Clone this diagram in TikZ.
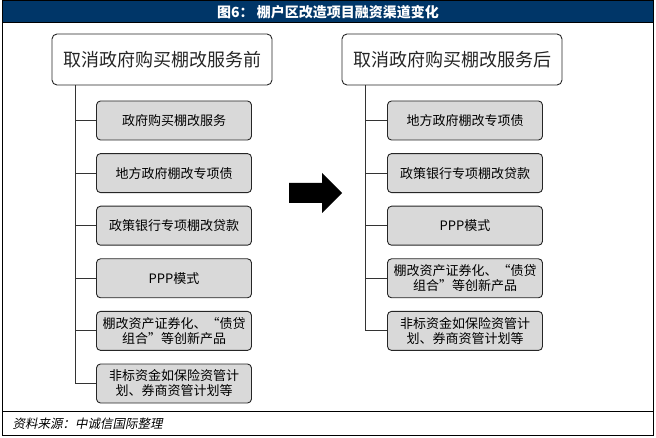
\documentclass[tikz,border=0pt]{standalone}
\usepackage{fontspec}
\setmainfont{Noto Sans CJK SC}
\newfontfamily\cjkslant[FakeSlant=0.2]{Noto Sans CJK SC}
\definecolor{titleblue}{RGB}{0,54,104}
\definecolor{boxgray}{RGB}{217,217,217}
\tikzset{
  headbox/.style={draw=black!85, line width=0.9pt, rounded corners=5pt, minimum width=220pt, minimum height=51pt, font=\fontsize{18}{20}\selectfont, text=black!85},
  itembox/.style={draw=black!85, line width=0.9pt, fill=boxgray, rounded corners=4pt, minimum width=155pt, minimum height=39pt, inner sep=1pt, align=center, font=\fontsize{13}{15}\selectfont},
  branch/.style={draw=black!80, line width=0.9pt}
}

\begin{document}
\begin{tikzpicture}[x=1pt, y=-1pt]
    \useasboundingbox (0,0) rectangle (656,438);

    % Frame and title
    \fill[titleblue] (2,1) rectangle (653,23);
    \node[text=white, font=\fontsize{14}{16}\selectfont\bfseries] (title) at (328,12) {图6：\ 棚户区改造项目融资渠道变化};
    \draw[line width=1pt] (2,1) rectangle (653,435);
    \draw[line width=1pt] (2,23) -- (653,23);
    \draw[line width=1pt] (2,411) -- (653,411);
    \node[anchor=west, font=\fontsize{12.5}{14}\cjkslant] (source) at (9,423.5) {资料来源：中诚信国际整理};

    % Draw nodes
    \node[headbox] (pre) at (162,59.5) {取消政府购买棚改服务前};
    \node[itembox] (pre1) at (174,120.5) {政府购买棚改服务};
    \node[itembox] (pre2) at (174,173.1) {地方政府棚改专项债};
    \node[itembox] (pre3) at (174,225.7) {政策银行专项棚改贷款};
    \node[itembox] (pre4) at (174,278.3) {PPP模式};
    \node[itembox] (pre5) at (174,330.9) {棚改资产证券化、“债贷\\组合”等创新产品};
    \node[itembox] (pre6) at (174,383.5) {非标资金如保险资管计\\划、券商资管计划等};

    \node[headbox] (post) at (452,59.5) {取消政府购买棚改服务后};
    \node[itembox] (post1) at (465,120.5) {地方政府棚改专项债};
    \node[itembox] (post2) at (465,173.1) {政策银行专项棚改贷款};
    \node[itembox] (post3) at (465,225.7) {PPP模式};
    \node[itembox] (post4) at (465,278.3) {棚改资产证券化、“债贷\\组合”等创新产品};
    \node[itembox] (post5) at (465,330.9) {非标资金如保险资管计\\划、券商资管计划等};

    % Draw connections
    \coordinate (preTrunk) at (pre.south -| 75,0);
    \coordinate (postTrunk) at (post.south -| 365,0);
    \foreach \i in {1,...,6}
        \draw[branch] (preTrunk) |- (pre\i.west);
    \foreach \i in {1,...,5}
        \draw[branch] (postTrunk) |- (post\i.west);

    % Arrow
    \fill (289,183) -- (322,183) -- (322,173) -- (342,193) -- (322,213) -- (322,203) -- (289,203) -- cycle;
\end{tikzpicture}
\end{document}
